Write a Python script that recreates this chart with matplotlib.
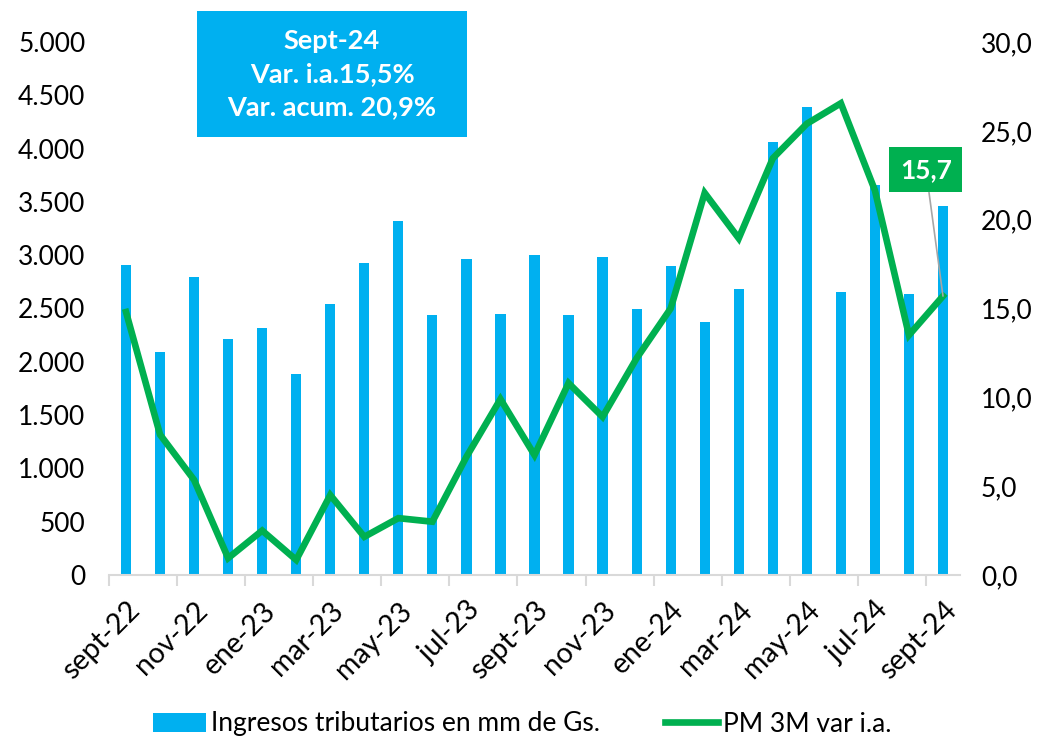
import numpy as np
import matplotlib
matplotlib.use("Agg")
import matplotlib.pyplot as plt
from matplotlib.patches import Rectangle
from matplotlib.ticker import FuncFormatter

# Datos
meses = ["sept-22", "oct-22", "nov-22", "dic-22", "ene-23", "feb-23", "mar-23",
         "abr-23", "may-23", "jun-23", "jul-23", "ago-23", "sept-23", "oct-23",
         "nov-23", "dic-23", "ene-24", "feb-24", "mar-24", "abr-24", "may-24",
         "jun-24", "jul-24", "ago-24", "sept-24"]
ingresos = [2908, 2089, 2798, 2211, 2314, 1886, 2542, 2930, 3321, 2439, 2962, 2446,
            2998, 2436, 2986, 2495, 2902, 2370, 2683, 4062, 4387, 2655, 3659, 2636, 3462]
pm3m = [14.8, 7.9, 5.35, 0.95, 2.5, 0.85, 4.5, 2.15, 3.2, 3.0, 6.65, 9.9,
        6.75, 10.8, 8.9, 12.2, 15.0, 21.5, 18.95, 23.45, 25.4, 26.55, 21.65, 13.5, 15.7]

azul = "#00B0F0"
verde = "#00B050"
plt.rcParams["font.family"] = ["Lato", "DejaVu Sans"]
fs = 19

fig = plt.figure(figsize=(10.45, 7.38), dpi=100)
ax = fig.add_axes([109 / 1045, 1 - 575 / 738, (960 - 109) / 1045, (575 - 42) / 738])
x = np.arange(len(meses))

barras = ax.bar(x, ingresos, width=0.3, color=azul, label="Ingresos tributarios en mm de Gs.")
ax.set_xlim(-0.5, len(meses) - 0.5)
ax.set_ylim(0, 5000)
ax.set_yticks(np.arange(0, 5001, 500))
ax.yaxis.set_major_formatter(FuncFormatter(lambda v, p: f"{int(v):,}".replace(",", ".")))

ax2 = ax.twinx()
linea, = ax2.plot(x, pm3m, color=verde, lw=4.8, solid_joinstyle="miter", label="PM 3M var i.a.")
ax2.set_ylim(0, 30)
ax2.set_yticks(np.arange(0, 31, 5))
ax2.yaxis.set_major_formatter(FuncFormatter(lambda v, p: f"{v:.1f}".replace(".", ",")))

for a in (ax, ax2):
    for s in ("top", "left", "right"):
        a.spines[s].set_visible(False)
    a.spines["bottom"].set_color("#d9d9d9")
    a.spines["bottom"].set_linewidth(1.5)
ax2.spines["bottom"].set_visible(False)

ax.tick_params(axis="y", length=0, labelsize=fs, pad=17)
ax2.tick_params(axis="y", length=0, labelsize=fs, pad=15)

ax.set_xticks(x[::2])
ax.set_xticklabels(meses[::2], rotation=45, ha="right", rotation_mode="anchor", fontsize=20.5)
ax.set_xticks(np.arange(-0.5, len(meses) - 1, 2), minor=True)
ax.tick_params(axis="x", which="major", length=0, pad=16)
ax.tick_params(axis="x", which="minor", length=8, width=1.5, color="#d9d9d9", direction="out")

# Recuadro con el resumen
fig.patches.append(Rectangle((197 / 1045, 1 - 137 / 738), 270 / 1045, 126 / 738,
                             transform=fig.transFigure, facecolor=azul, edgecolor="none"))
fig.text(332 / 1045, 1 - 74 / 738, "Sept-24\nVar. i.a.15,5%\nVar. acum. 20,9%",
         ha="center", va="center", color="white", fontsize=19.5, fontweight="bold",
         linespacing=1.45)

# Etiqueta del último valor
ax2.annotate(f"{pm3m[-1]:.1f}".replace(".", ","), xy=(x[-1], pm3m[-1]),
             xytext=(x[-1] - 0.5, 22.8), ha="center", va="center",
             color="white", fontsize=fs, fontweight="bold",
             bbox=dict(boxstyle="square,pad=0.4", facecolor=verde, edgecolor="none"),
             arrowprops=dict(arrowstyle="-", color="#a6a6a6", lw=1.2, shrinkA=0, shrinkB=0))

fig.legend([barras, linea], ["Ingresos tributarios en mm de Gs.", "PM 3M var i.a."],
           loc="center", bbox_to_anchor=(0.5, 1 - 724 / 738), ncol=2, frameon=False,
           fontsize=fs, handlelength=2.0, handletextpad=0.2, columnspacing=2.45)

fig.savefig("out.png", dpi=100)
